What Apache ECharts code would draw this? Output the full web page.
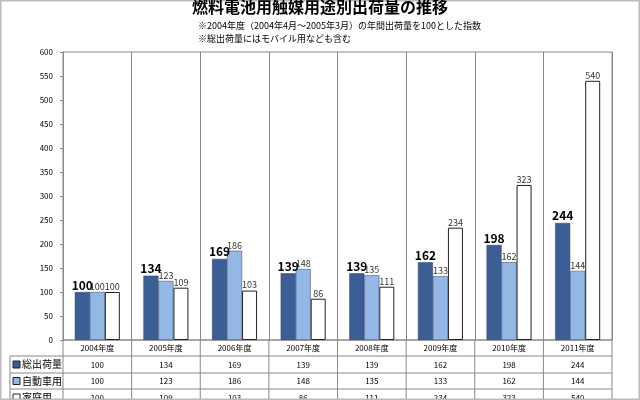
<!DOCTYPE html>
<html><head><meta charset="utf-8">
<script src="https://cdn.jsdelivr.net/npm/echarts@6/dist/echarts.min.js"></script>
<style>html,body{margin:0;padding:0;background:#fff}#main{width:640px;height:400px}</style>
</head><body><div id="main"></div>
<script>
var chart = echarts.init(document.getElementById('main'));

var years = ['2004年度', '2005年度', '2006年度', '2007年度', '2008年度', '2009年度', '2010年度', '2011年度'];
var names = ['総出荷量', '自動車用', '家庭用'];
var total = [100, 134, 169, 139, 139, 162, 198, 244];
var auto = [100, 123, 186, 148, 135, 133, 162, 144];
var home = [100, 109, 103, 86, 111, 234, 323, 540];
var rows = [total, auto, home];
var colors = ['#3b5f95', '#93b8e6', '#ffffff'];
var font = '"Noto Sans CJK JP", sans-serif';

var L = 63, R = 612, T = 52, B = 340;

var series = rows.map(function (d, i) {
    return {
        name: names[i],
        type: 'bar',
        data: d,
        barWidth: 15,
        barGap: '0%',
        itemStyle: { color: colors[i], borderColor: i == 2 ? '#222' : '#2a3f60', borderWidth: i == 2 ? 1 : 0.5 },
        label: {
            show: true, position: 'top', distance: 1,
            color: i == 0 ? '#000' : '#333',
            fontSize: i == 0 ? 12 : 9,
            fontWeight: i == 0 ? 'bold' : 'normal',
            fontFamily: font
        }
    };
});

chart.setOption({
    animation: false,
    textStyle: { fontFamily: font },
    title: [
        { text: '燃料電池用触媒用途別出荷量の推移', left: 'center', top: -6, textStyle: { fontSize: 16, fontWeight: 'bold', color: '#000' } },
        { text: '※2004年度（2004年4月～2005年3月）の年間出荷量を100とした指数\n※総出荷量にはモバイル用なども含む', left: 193, top: 14,
          textStyle: { fontSize: 9, fontWeight: 'normal', color: '#000', lineHeight: 13 } }
    ],
    grid: { left: L, right: 640 - R, top: T, bottom: 400 - B, show: true, borderColor: '#888', borderWidth: 1 },
    xAxis: {
        type: 'category', data: years,
        axisLine: { show: false }, axisTick: { show: false }, axisLabel: { show: false },
        splitLine: { show: true, lineStyle: { color: '#888' } }
    },
    yAxis: {
        type: 'value', min: 0, max: 600, interval: 50,
        axisLine: { show: true, lineStyle: { color: '#888' } },
        axisTick: { show: true, length: 3 },
        axisLabel: { color: '#000', fontSize: 8, margin: 10 },
        splitLine: { show: false }
    },
    series: series
});

// data table under the plot
var rowY = [340, 356, 373, 389, 406];
var g = [];
var colW = (R - L) / years.length;
var lineStyle = { stroke: '#888', lineWidth: 1 };
rowY.forEach(function (y, k) {
    g.push({ type: 'line', shape: { x1: k == 0 ? L : 10, y1: y, x2: R, y2: y }, style: lineStyle });
});
g.push({ type: 'line', shape: { x1: 10, y1: 356, x2: 10, y2: 406 }, style: lineStyle });
for (var c = 0; c <= years.length; c++) {
    var x = L + c * colW;
    g.push({ type: 'line', shape: { x1: x, y1: 340, x2: x, y2: 406 }, style: lineStyle });
}
years.forEach(function (yr, c) {
    var cx = chart.convertToPixel({ xAxisIndex: 0 }, yr);
    g.push({ type: 'text', x: cx, y: 348, style: { text: yr, fontSize: 8, fill: '#000', align: 'center', verticalAlign: 'middle', fontFamily: font } });
    rows.forEach(function (d, r) {
        g.push({ type: 'text', x: cx, y: (rowY[r + 1] + rowY[r + 2]) / 2, style: { text: String(d[c]), fontSize: 8, fill: '#000', align: 'center', verticalAlign: 'middle', fontFamily: font } });
    });
});
names.forEach(function (n, r) {
    var cy = (rowY[r + 1] + rowY[r + 2]) / 2;
    g.push({ type: 'rect', shape: { x: 13, y: cy - 3.5, width: 7, height: 7 }, style: { fill: colors[r], stroke: '#222', lineWidth: 1 } });
    g.push({ type: 'text', x: 22, y: cy, style: { text: n, fontSize: 10, fill: '#000', verticalAlign: 'middle', fontFamily: font } });
});
// outer frame
g.push({ type: 'rect', shape: { x: 0.5, y: 0.5, width: 639, height: 399 }, style: { fill: 'none', stroke: '#bbb', lineWidth: 2 } });
chart.setOption({ graphic: g });
</script></body></html>
